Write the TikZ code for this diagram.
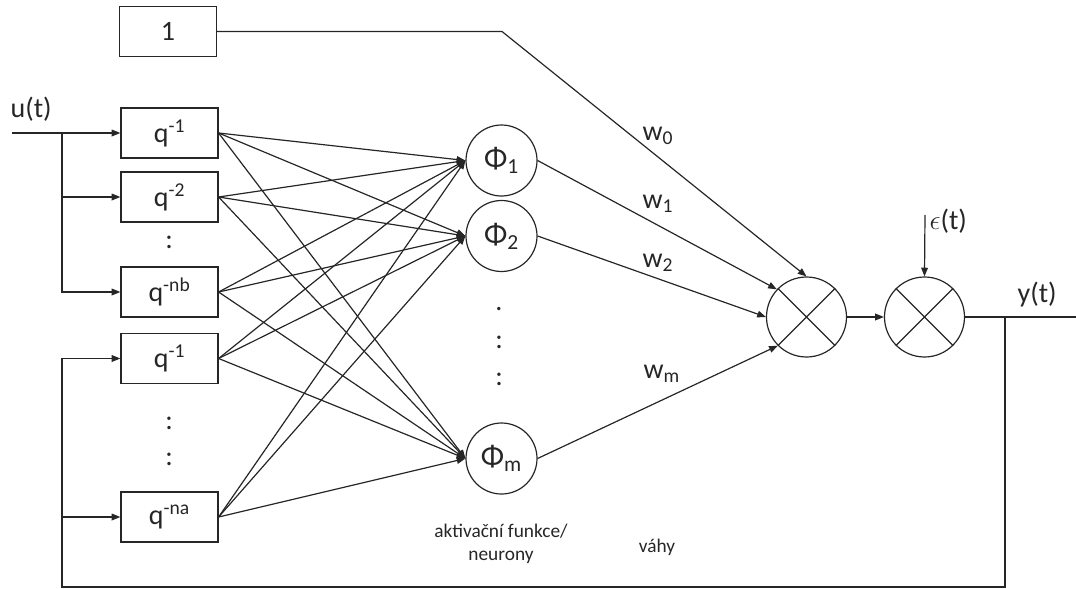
\documentclass[tikz,border=0pt]{standalone}
\usepackage{fontspec}
\setmainfont{Carlito}
\usetikzlibrary{arrows.meta}
\begin{document}
\begin{tikzpicture}[x=0.75pt,y=-0.75pt,
  line width=0.9pt, color=black!85,
  >={Triangle[length=6.5pt,width=5pt]},
  box/.style={draw, minimum width=72.75pt, minimum height=37.5pt, inner sep=0pt, font=\fontsize{21}{25}\selectfont},
  neur/.style={draw, circle, minimum size=53.25pt, inner sep=0pt, font=\fontsize{23}{27}\selectfont},
  mult/.style={draw, circle, minimum size=60pt, inner sep=0pt},
  lbl/.style={font=\fontsize{21}{25}\selectfont, inner sep=0pt},
  small/.style={font=\fontsize{14.5}{17}\selectfont, inner sep=0pt}
]
\useasboundingbox (0,0) rectangle (1076,589);
\clip (0,0) rectangle (1076,589);

% boxes
\node[box] (one) at (168,31.5) {1};
\node[box] (q1) at (169.5,133) {q\textsuperscript{-1}};
\node[box] (q2) at (169.5,197) {q\textsuperscript{-2}};
\node[box] (q3) at (169.5,292) {q\textsuperscript{-nb}};
\node[box] (q4) at (169.5,358.5) {q\textsuperscript{-1}};
\node[box] (q5) at (169.5,517) {q\textsuperscript{-na}};
\node[lbl] (d1) at (169,242) {:};
\node[lbl] (d2) at (169,423) {:};
\node[lbl] (d3) at (169,459) {:};

% neurons
\node[neur] (p1) at (501.5,160.5) {Φ\textsubscript{1}};
\node[neur] (p2) at (501.5,236) {Φ\textsubscript{2}};
\node[neur] (pm) at (501.5,458.5) {Φ\textsubscript{m}};
\node[lbl] (e1) at (499,309) {.};
\node[lbl] (e2) at (499,342) {:};
\node[lbl] (e3) at (499,379) {:};

% multipliers
\node[mult] (m1) at (806.5,317) {};
\node[mult] (m2) at (924.5,317) {};
\draw (m1.45) -- (m1.225) (m1.135) -- (m1.315);
\draw (m2.45) -- (m2.225) (m2.135) -- (m2.315);

% coordinates
\coordinate (kink) at (502,31.5);
\coordinate (uin) at (12,133);
\coordinate (usplit) at (62,133);
\coordinate (eps) at (925,215);
\coordinate (fb) at (1005,317);
\coordinate (fbb) at (1005,587);
\coordinate (fbl) at (62,587);
\coordinate (out) at (1086,317);

% connectors
\draw[->] (uin) -- (q1.west);
\draw[->] (usplit) |- (q2.west);
\draw[->] (usplit) |- (q3.west);
\draw[->] (fb) -- (fbb) -- (fbl) |- (q4.west);
\draw[->] (fbl |- q5.west) -- (q5.west);
\foreach \q in {q1,q2,q3,q4,q5}
  \foreach \p in {p1,p2,pm}
    \draw[->] (\q.east) -- (\p.west);
\draw[->] (one.east) -- (kink) -- (m1.north);
\draw[->] (p1.east) -- (m1.137);
\draw[->] (p2.east) -- (m1.west);
\draw[->] (pm.east) -- (m1.225);
\draw[->] (m1.east) -- (m2.west);
\draw[->] (eps) -- (m2.north);
\draw[->] (m2.east) -- (out);

% labels
\node[lbl, anchor=base west] (ulab) at (10,117) {u(t)};
\node[lbl, anchor=base west] (elab) at (929,229) {$\epsilon$(t)};
\node[lbl, anchor=base west] (ylab) at (1017,302) {y(t)};
\node[lbl, anchor=base west] (w0) at (642,140) {w\textsubscript{0}};
\node[lbl, anchor=base west] (w1) at (642,208) {w\textsubscript{1}};
\node[lbl, anchor=base west] (w2) at (642,267) {w\textsubscript{2}};
\node[lbl, anchor=base west] (wm) at (643,378) {w\textsubscript{m}};
\node[small, anchor=base] (akt) at (501,537) {aktivační funkce/};
\node[small, anchor=base] (neu) at (501,560) {neurony};
\node[small, anchor=base] (vahy) at (657,552) {váhy};
\end{tikzpicture}
\end{document}
